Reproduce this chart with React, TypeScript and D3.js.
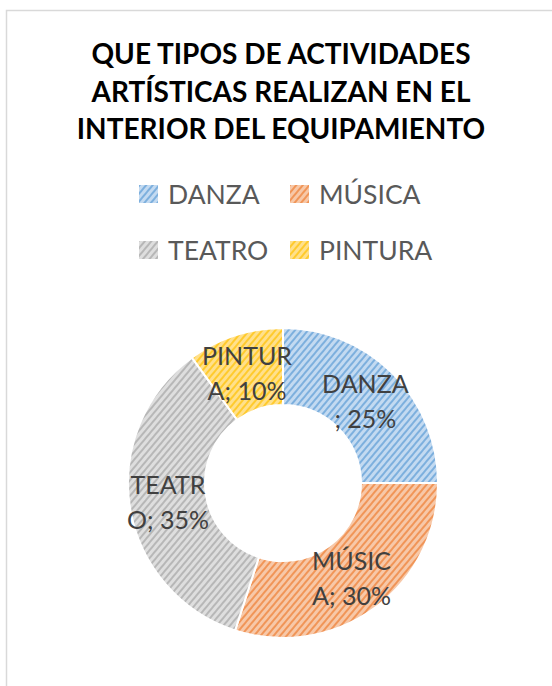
import React from 'react';
import * as d3 from 'd3';

// datos del gráfico
const titleLines = ['QUE TIPOS DE ACTIVIDADES', 'ARTÍSTICAS REALIZAN EN EL', 'INTERIOR DEL EQUIPAMIENTO'];
const categories = ['DANZA', 'MÚSICA', 'TEATRO', 'PINTURA'];
const values = [25, 30, 35, 10];
const labelLines = [['DANZA', '; 25%'], ['MÚSIC', 'A; 30%'], ['TEATR', 'O; 35%'], ['PINTUR', 'A; 10%']];
const colors = ['#5B9BD5', '#ED7D31', '#A5A5A5', '#FFC000'];
const tints = ['#C3DAF1', '#F7C8A8', '#DEDEDE', '#FFE08C'];

const W = 552;
const H = 686;
const FONT = 'Lato, Calibri, sans-serif';

const App = () => {
    const cx = 283;
    const cy = 483;
    const rOuter = 155;
    const rInner = 78;

    const pie = d3.pie<number>().sort(null).value(d => d);
    const arcs = pie(values);
    const arc = d3.arc<d3.PieArcDatum<number>>().innerRadius(rInner).outerRadius(rOuter);
    const labelArc = d3.arc<d3.PieArcDatum<number>>()
        .innerRadius((rInner + rOuter) / 2)
        .outerRadius((rInner + rOuter) / 2);

    // leyenda en 2 columnas
    const legendX = d3.scaleOrdinal<number, number>().domain([0, 1]).range([139, 290]);
    const legendY = d3.scaleOrdinal<number, number>().domain([0, 1]).range([194, 250]);

    return (
        <svg width={W} height={H} style={{ position: 'absolute', left: 0, top: 0, display: 'block' }}>
            <defs>
                {colors.map((c, i) => (
                    <pattern key={i} id={`hatch${i}`} width={5} height={5}
                        patternUnits="userSpaceOnUse" patternTransform="rotate(40)">
                        <rect width={5} height={5} fill={tints[i]} />
                        <line x1={1} y1={0} x2={1} y2={5} stroke={c} strokeWidth={1.7} strokeOpacity={0.8} />
                    </pattern>
                ))}
            </defs>
            <rect x={0} y={0} width={W} height={H} fill="#fff" />
            <rect x={6.5} y={10.5} width={W + 20} height={H + 20} fill="none" stroke="#D9D9D9" strokeWidth={1.5} />

            {titleLines.map((t, i) => (
                <text key={i} x={281} y={53 + i * 37.5} textAnchor="middle" dominantBaseline="central"
                    fontFamily={FONT} fontWeight="bold" fontSize={28} fill="#000">{t}</text>
            ))}

            {categories.map((c, i) => {
                const col = i % 2;
                const row = Math.floor(i / 2);
                const x = legendX(col);
                const y = legendY(row);
                return (
                    <g key={c}>
                        <rect x={x} y={y - 9} width={19} height={18} fill={`url(#hatch${i})`} />
                        <text x={x + 29} y={y} dominantBaseline="central" fontFamily={FONT}
                            fontSize={26.5} fill="#595959">{c}</text>
                    </g>
                );
            })}

            <g transform={`translate(${cx},${cy})`}>
                {arcs.map((a, i) => (
                    <path key={i} d={arc(a) || ''} fill={`url(#hatch${i})`} stroke="#fff" strokeWidth={2} />
                ))}
                {arcs.map((a, i) => {
                    const [lx, ly] = labelArc.centroid(a);
                    return (
                        <text key={i} x={lx} y={ly} textAnchor="middle" fontFamily={FONT}
                            fontSize={25} fill="#404040">
                            {labelLines[i].map((l, j) => (
                                <tspan key={j} x={lx} y={ly + (j - 0.5) * 35} dominantBaseline="central">{l}</tspan>
                            ))}
                        </text>
                    );
                })}
            </g>
        </svg>
    );
};

export default App;
